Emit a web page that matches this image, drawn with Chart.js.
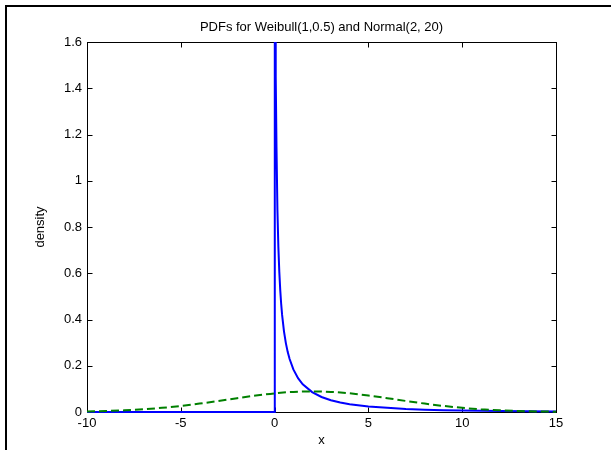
<!DOCTYPE html>
<html lang="en">
<head>
<meta charset="UTF-8">
<title>PDFs for Weibull(1,0.5) and Normal(2, 20)</title>
<script src="https://cdn.jsdelivr.net/npm/chart.js"></script>
<style>
    html, body { margin: 0; padding: 0; background: #fff; }
    #wrap { position: relative; width: 611px; height: 450px; }
</style>
</head>
<body>
<div id="wrap"><canvas id="pdfChart"></canvas></div>
<script>
// Weibull(1,0.5) density
const weibullX = [-10, 0, 0, 0.01, 0.02, 0.03, 0.05, 0.07, 0.1, 0.15, 0.2, 0.25, 0.3, 0.35, 0.4,
    0.5, 0.6, 0.7, 0.8, 1, 1.25, 1.5, 2, 2.5, 3, 3.5, 4, 5, 6, 7, 8, 9, 10, 12, 15];
const weibullY = [0, 0, 5, 4.52, 3.07, 2.43, 1.79, 1.45, 1.15, 0.876, 0.715, 0.607, 0.528, 0.468, 0.420,
    0.349, 0.298, 0.259, 0.229, 0.184, 0.146, 0.120, 0.086, 0.065, 0.051, 0.041, 0.034, 0.024, 0.018, 0.013, 0.010, 0.008, 0.0067, 0.0045, 0.0027];

// Normal(2, 20) density
const normalX = [-10, -9, -8, -7, -6, -5, -4, -3, -2, -1, 0, 1, 2, 3, 4, 5, 6, 7, 8, 9, 10, 11, 12, 13, 14, 15];
const normalY = [0.0024, 0.0043, 0.0073, 0.0118, 0.0180, 0.0262, 0.0363, 0.0477, 0.0598, 0.0712, 0.0807, 0.0870, 0.0892,
    0.0870, 0.0807, 0.0712, 0.0598, 0.0477, 0.0363, 0.0262, 0.0180, 0.0118, 0.0073, 0.0043, 0.0024, 0.0013];

const xTicks = [-10, -5, 0, 5, 10, 15];
const yTicks = [0, 0.2, 0.4, 0.6, 0.8, 1, 1.2, 1.4, 1.6];
const chartTitle = 'PDFs for Weibull(1,0.5) and Normal(2, 20)';

const FONT = '"Liberation Sans", Arial, Helvetica, sans-serif';

// outer frame, title over the axes, matlab style box with inward ticks
const boxPlugin = {
    id: 'matlabBox',
    beforeDraw(chart) {
        const ctx = chart.ctx;
        const a = chart.chartArea;
        ctx.save();
        ctx.fillStyle = '#fff';
        ctx.fillRect(0, 0, chart.width, chart.height);
        ctx.fillStyle = '#000';
        ctx.fillRect(5, 5, chart.width - 5, 2);
        ctx.fillRect(5, 5, 2, chart.height - 5);
        ctx.font = '13px ' + FONT;
        ctx.textAlign = 'center';
        ctx.textBaseline = 'middle';
        ctx.fillText(chartTitle, (a.left + a.right) / 2, 27);
        ctx.restore();
    },
    beforeDatasetsDraw(chart) {
        const { ctx, chartArea: a, scales: { x, y } } = chart;
        const L = Math.round(a.left) + 0.5, R = Math.round(a.right) + 0.5;
        const T = Math.round(a.top) + 0.5, B = Math.round(a.bottom) + 0.5;
        ctx.save();
        ctx.strokeStyle = '#000';
        ctx.lineWidth = 1;
        ctx.beginPath();
        xTicks.forEach(v => {
            const px = Math.round(x.getPixelForValue(v)) + 0.5;
            ctx.moveTo(px, B); ctx.lineTo(px, B - 5);
            ctx.moveTo(px, T); ctx.lineTo(px, T + 5);
        });
        yTicks.forEach(v => {
            const py = Math.round(y.getPixelForValue(v)) + 0.5;
            ctx.moveTo(L, py); ctx.lineTo(L + 5, py);
            ctx.moveTo(R, py); ctx.lineTo(R - 5, py);
        });
        ctx.stroke();
        ctx.strokeRect(L, T, R - L, B - T);
        ctx.restore();
    }
};

const ctx = document.getElementById('pdfChart').getContext('2d');
new Chart(ctx, {
    type: 'line',
    data: {
        datasets: [{
            label: 'Weibull(1,0.5)',
            data: weibullX.map((v, i) => ({ x: v, y: weibullY[i] })),
            borderColor: '#0000ff',
            borderWidth: 2,
            pointRadius: 0,
            tension: 0,
            clip: { left: 1, top: 0, right: 1, bottom: 2 },
            order: 2
        }, {
            label: 'Normal(2, 20)',
            data: normalX.map((v, i) => ({ x: v, y: normalY[i] })),
            borderColor: '#008000',
            borderWidth: 2,
            borderDash: [8, 4],
            pointRadius: 0,
            cubicInterpolationMode: 'monotone',
            clip: { left: 1, top: 0, right: 1, bottom: 2 },
            order: 1
        }]
    },
    options: {
        responsive: true,
        maintainAspectRatio: false,
        animation: false,
        events: [],
        layout: { padding: { left: 0, right: 55, top: 42, bottom: 0 } },
        plugins: {
            legend: { display: false },
            tooltip: { enabled: false },
            title: { display: false }
        },
        scales: {
            x: {
                type: 'linear',
                min: -10,
                max: 15,
                afterBuildTicks: s => { s.ticks = xTicks.map(v => ({ value: v })); },
                afterFit: s => { s.height = 38; },
                grid: { display: false, drawTicks: false },
                border: { display: false },
                ticks: { color: '#000', font: { family: FONT, size: 13 }, padding: 4, maxRotation: 0, autoSkip: false,
                    callback: v => String(v) },
                title: { display: true, text: 'x', color: '#000', font: { family: FONT, size: 13 }, padding: { top: 0, bottom: 2 } }
            },
            y: {
                type: 'linear',
                min: 0,
                max: 1.6,
                afterBuildTicks: s => { s.ticks = yTicks.map(v => ({ value: v })); },
                afterFit: s => { s.width = 87; },
                grid: { display: false, drawTicks: false },
                border: { display: false },
                ticks: { color: '#000', font: { family: FONT, size: 13 }, padding: 5, autoSkip: false,
                    callback: v => String(Number(v.toFixed(1))) },
                title: { display: true, text: 'density', color: '#000', font: { family: FONT, size: 13 }, padding: { top: 33, bottom: 0 } }
            }
        }
    },
    plugins: [boxPlugin]
});
</script>
</body>
</html>
